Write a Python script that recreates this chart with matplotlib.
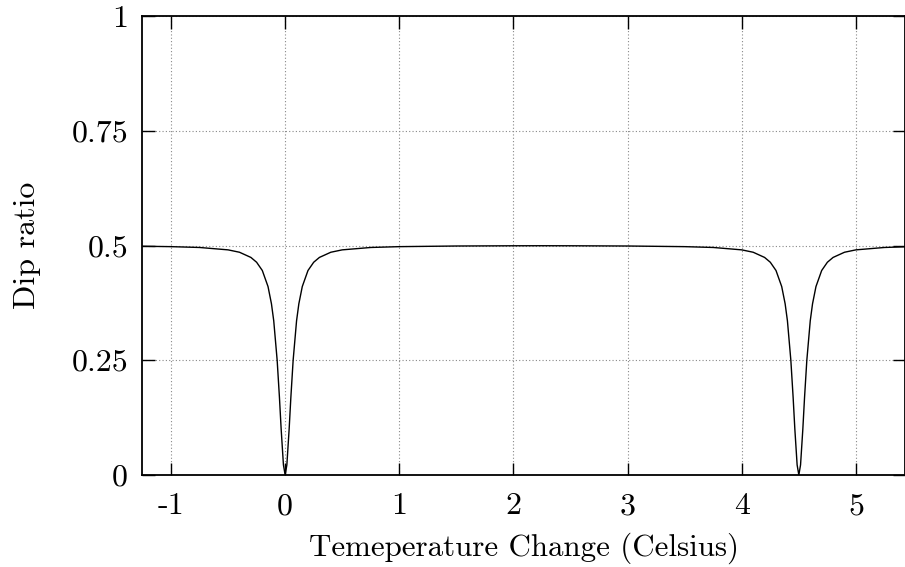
import matplotlib.pyplot as plt

plt.rcParams['font.family'] = ['cmr10', 'DejaVu Serif']
plt.rcParams['axes.formatter.use_mathtext'] = True

# Dip ratio against temperature change, sampled by hand along the curve
temp_change = [
    -1.25, -1.0, -0.75, -0.5, -0.4, -0.3, -0.25, -0.2, -0.15, -0.12, -0.1,
    -0.07, -0.05, -0.035, -0.015, 0.0, 0.015, 0.035, 0.05, 0.07, 0.1, 0.12,
    0.15, 0.2, 0.25, 0.3, 0.4, 0.5, 0.75, 1.0, 1.5, 2.0, 2.25, 2.5, 3.0,
    3.5, 3.75, 4.0, 4.1, 4.2, 4.25, 4.3, 4.35, 4.38, 4.4, 4.43, 4.45, 4.465,
    4.485, 4.5, 4.515, 4.535, 4.55, 4.57, 4.6, 4.62, 4.65, 4.7, 4.75, 4.8,
    4.9, 5.0, 5.25, 5.43,
]
dip_ratio = [
    0.4984, 0.4975, 0.4957, 0.4905, 0.4853, 0.4740, 0.4635, 0.4455, 0.4105,
    0.3730, 0.3360, 0.2500, 0.1690, 0.1000, 0.0220, 0.0, 0.0220, 0.1000,
    0.1690, 0.2500, 0.3360, 0.3730, 0.4105, 0.4455, 0.4635, 0.4740, 0.4853,
    0.4905, 0.4957, 0.4975, 0.4989, 0.4994, 0.4995, 0.4994, 0.4989, 0.4975,
    0.4957, 0.4905, 0.4853, 0.4740, 0.4635, 0.4455, 0.4105, 0.3730, 0.3360,
    0.2500, 0.1690, 0.1000, 0.0220, 0.0, 0.0220, 0.1000, 0.1690, 0.2500,
    0.3360, 0.3730, 0.4105, 0.4455, 0.4635, 0.4740, 0.4853, 0.4905, 0.4957,
    0.4972,
]

x_ticks = [-1, 0, 1, 2, 3, 4, 5]
x_tick_labels = ['-1', '0', '1', '2', '3', '4', '5']
y_ticks = [0, 0.25, 0.5, 0.75, 1]
y_tick_labels = ['0', '0.25', '0.5', '0.75', '1']

fig = plt.figure(figsize=(9.05, 5.67), dpi=100)
ax = fig.add_axes([142 / 905, 1 - 475 / 567, 763 / 905, 459 / 567])

ax.plot(temp_change, dip_ratio, color='black', linewidth=1.0)

ax.set_xlim(-1.254, 5.43)
ax.set_ylim(0, 1)
ax.set_xticks(x_ticks)
ax.set_xticklabels(x_tick_labels)
ax.set_yticks(y_ticks)
ax.set_yticklabels(y_tick_labels)

ax.grid(True, color='#888888', linestyle=(0, (1, 2)), linewidth=0.8)
ax.tick_params(direction='in', length=9, width=1.0, top=True, right=True,
               labelsize=23, colors='black')
ax.tick_params(axis='x', pad=13)
ax.tick_params(axis='y', pad=10)
for spine in ax.spines.values():
    spine.set_linewidth(1.3)

ax.set_xlabel('Temeperature Change (Celsius)', fontsize=22.3, labelpad=9)
ax.set_ylabel('Dip ratio', fontsize=23, labelpad=22)

fig.savefig('out.png', dpi=100)
plt.close(fig)
